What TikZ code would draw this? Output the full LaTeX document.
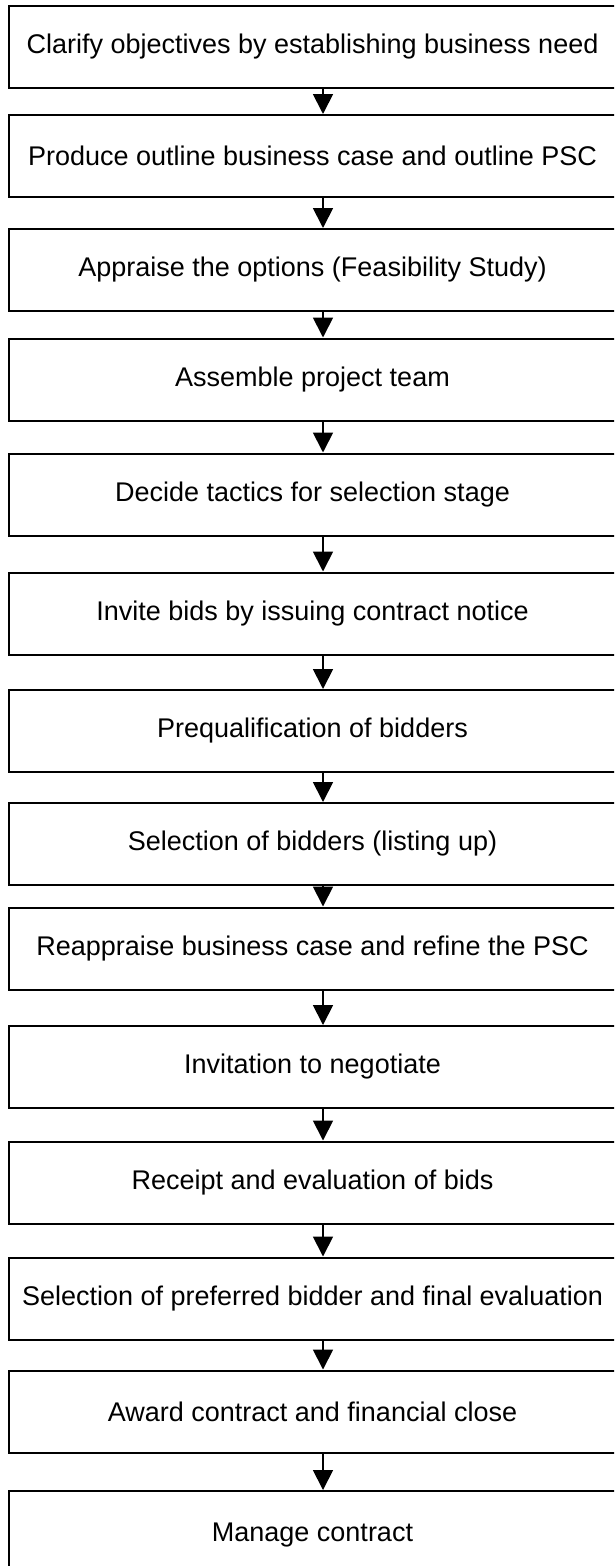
\documentclass[tikz,border=0pt]{standalone}
\usepackage{fontspec}
\setmainfont{Liberation Sans}
\usetikzlibrary{arrows.meta}
\begin{document}
\begin{tikzpicture}[x=1pt,y=-1pt,
  stagebox/.style={draw=black,line width=2pt,rectangle,minimum width=607pt,
    minimum height=82pt,inner sep=0pt,font=\fontsize{27}{31}\selectfont,anchor=center},
  flow/.style={line width=1.8pt,-{Triangle[width=20pt,length=20pt]}}]
\useasboundingbox (0,0) rectangle (614,1566);
\clip (0,0) rectangle (614,1566);
% column of the connectors
\coordinate (ax) at (323,0);
\node[stagebox] (s1)  at (312.5,46.5)  {Clarify objectives by establishing business need};
\node[stagebox] (s2)  at (312.5,156)   {Produce outline business case and outline PSC};
\node[stagebox] (s3)  at (312.5,270)   {Appraise the options (Feasibility Study)};
\node[stagebox] (s4)  at (312.5,379.5) {Assemble project team};
\node[stagebox] (s5)  at (312.5,494.5) {Decide tactics for selection stage};
\node[stagebox] (s6)  at (312.5,613.5) {Invite bids by issuing contract notice};
\node[stagebox] (s7)  at (312.5,731)   {Prequalification of bidders};
\node[stagebox] (s8)  at (312.5,844)   {Selection of bidders (listing up)};
\node[stagebox] (s9)  at (312.5,948.5) {Reappraise business case and refine the PSC};
\node[stagebox] (s10) at (312.5,1067)  {Invitation to negotiate};
\node[stagebox] (s11) at (312.5,1182.5){Receipt and evaluation of bids};
\node[stagebox] (s12) at (312.5,1298.5){Selection of preferred bidder and final evaluation};
\node[stagebox] (s13) at (312.5,1411.5){Award contract and financial close};
\node[stagebox,minimum height=88pt] (s14) at (312.5,1535){Manage contract};
\foreach \a/\b in {s1/s2,s2/s3,s3/s4,s4/s5,s5/s6,s6/s7,s7/s8,s8/s9,s9/s10,s10/s11,s11/s12,s12/s13,s13/s14}
  \draw[flow] (\a.south -| ax) -- (\b.north -| ax);
\end{tikzpicture}
\end{document}
